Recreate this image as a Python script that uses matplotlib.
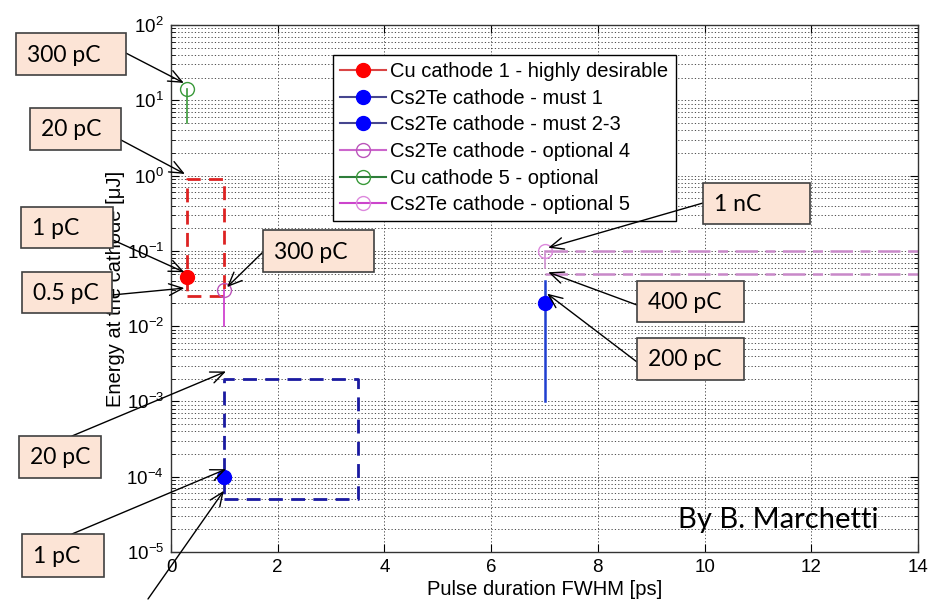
import numpy as np
import matplotlib
matplotlib.use("Agg")
import matplotlib.pyplot as plt
from matplotlib.patches import Rectangle, ConnectionPatch
from matplotlib.ticker import LogLocator, NullFormatter

# =========================================================
# DATOS
# =========================================================
cu1_x, cu1_y = [0.3], [0.045]          # Cu cathode 1 - highly desirable
must1_x, must1_y = [1.0], [1e-4]       # Cs2Te cathode - must 1
must23_x, must23_y = [7.0], [0.02]     # Cs2Te cathode - must 2-3
opt4_x, opt4_y = [1.0], [0.03]         # Cs2Te cathode - optional 4
cu5_x, cu5_y = [0.3], [14.0]           # Cu cathode 5 - optional
opt5_x, opt5_y = [7.0], [0.1]          # Cs2Te cathode - optional 5

# rangos verticales
opt4_range = [0.01, 0.03]
cu5_range = [5.0, 14.0]
must23_range = [1e-3, 0.04]
opt5_range = [0.06, 0.1]

# zonas rectangulares
red_box_x, red_box_y = [0.3, 1.0], [0.025, 0.9]
blue_box_x, blue_box_y = [1.0, 3.5], [5e-5, 2e-3]

# límites horizontales opcional 5
opt5_levels = [0.1, 0.05]
opt5_span = [7.0, 14.0]

labels = ["Cu cathode 1 - highly desirable",
          "Cs2Te cathode - must 1",
          "Cs2Te cathode - must 2-3",
          "Cs2Te cathode - optional 4",
          "Cu cathode 5 - optional",
          "Cs2Te cathode - optional 5"]

# anotaciones: texto y punto señalado
ann_text = ["300 pC", "20 pC", "1 pC", "0.5 pC", "300 pC",
            "1 nC", "400 pC", "200 pC", "20 pC", "1 pC", ""]
ann_tip_x = [0.24, 0.26, 0.25, 0.25, 1.05, 7.07, 7.07, 7.05, 1.03, 1.03, 0.99]
ann_tip_y = [17, 1.05, 0.052, 0.032, 0.033, 0.11, 0.052, 0.027, 0.0025, 1.26e-4, 6.5e-5]

# =========================================================
# FIGURA
# =========================================================
W, H = 930, 602
plt.rcParams['font.family'] = ['Liberation Sans', 'DejaVu Sans']

fig = plt.figure(figsize=(W / 100, H / 100), dpi=100)
ax = fig.add_axes([171 / W, 1 - 552 / H, 747 / W, 527 / H])


def px(x, y):
    return x / W, 1 - y / H


def box_rect(x, y, w, h):
    x0, y1 = px(x, y + h)
    return x0, y1, w / W, h / H


red = '#ff0000'
blue = '#0000ff'
green = '#3a9a3a'

# rectángulos
ax.plot([red_box_x[0], red_box_x[1], red_box_x[1], red_box_x[0], red_box_x[0]],
        [red_box_y[0], red_box_y[0], red_box_y[1], red_box_y[1], red_box_y[0]],
        color='#dd2222', lw=2, dashes=(5, 3))
ax.plot([blue_box_x[0], blue_box_x[1], blue_box_x[1], blue_box_x[0], blue_box_x[0]],
        [blue_box_y[0], blue_box_y[0], blue_box_y[1], blue_box_y[1], blue_box_y[0]],
        color='#1a1aa0', lw=2, dashes=(5, 3))

# líneas verticales
ax.plot(opt4_x * 2, opt4_range, color='#cc33cc', lw=1.2)
ax.plot(cu5_x * 2, cu5_range, color=green, lw=1.2)
ax.plot(must23_x * 2, must23_range, color='#1f3fd0', lw=1.8)
ax.plot(opt5_x * 2, opt5_range, color='#d090d0', lw=1.2)

# límites horizontales
ax.hlines(opt5_levels, opt5_span[0], opt5_span[1], colors='#c888c8', lw=1.8,
          linestyles=(0, (9, 3, 4, 3)))

# puntos
ax.plot(cu1_x, cu1_y, '-o', color='#d94545', mfc=red, mec=red, ms=10, label=labels[0])
ax.plot(must1_x, must1_y, '-o', color='#46468f', mfc=blue, mec=blue, ms=10, label=labels[1])
ax.plot(must23_x, must23_y, '-o', color='#46468f', mfc=blue, mec=blue, ms=10, label=labels[2])
ax.plot(opt4_x, opt4_y, '-o', color='#cc66cc', mfc='none', mec='#bb55bb', ms=10, label=labels[3])
ax.plot(cu5_x, cu5_y, '-o', color='#2e7d3a', mfc='none', mec=green, ms=10, label=labels[4])
ax.plot(opt5_x, opt5_y, '-o', color='#cc44cc', mfc='none', mec='#dd88dd', ms=10, label=labels[5])

ax.set_yscale('log')
ax.set_xlim(0, 14)
ax.set_ylim(1e-5, 1e2)
ax.set_xticks(np.arange(0, 15, 2))
ax.yaxis.set_major_locator(LogLocator(base=10, numticks=20))
ax.yaxis.set_minor_locator(LogLocator(base=10, subs=np.arange(2, 10), numticks=100))
ax.yaxis.set_minor_formatter(NullFormatter())

ax.grid(True, which='major', axis='both', color='#333333', lw=0.6, dashes=(1.5, 2.5))
ax.grid(True, which='minor', axis='y', color='#333333', lw=0.6, dashes=(1.5, 2.5))
ax.tick_params(which='both', direction='in', top=True, right=True, labelsize=13.5, pad=5)
ax.tick_params(which='major', length=6)
ax.tick_params(which='minor', length=3)
for s in ax.spines.values():
    s.set_linewidth(1.0)
    s.set_color('#333333')

ax.set_xlabel("Pulse duration FWHM [ps]", fontsize=14.5, labelpad=3)
ax.set_ylabel("Energy at the cathode [μJ]", fontsize=14.5, labelpad=1)

leg = ax.legend(loc='upper left', bbox_to_anchor=(0.2169, 0.9431), fontsize=14.5,
                fancybox=False, framealpha=1, edgecolor='black', borderpad=0.35,
                labelspacing=0.38, handlelength=2.3, handletextpad=0.2,
                borderaxespad=0)
leg.get_frame().set_linewidth(1.0)

# =========================================================
# CAJAS Y FLECHAS
# =========================================================
boxes = [(16, 33, 110, 42), (30, 108, 91, 42), (21, 207, 92, 41), (22, 272, 90, 41),
         (263, 230, 111, 42), (703, 183, 107, 41), (637, 281, 107, 41),
         (637, 338, 107, 42), (19, 436, 82, 42), (22, 534, 82, 43), None]
starts = [(120, 50), (121, 140), (113, 240), (112, 295), (263, 252), (703, 203),
          (637, 305), (637, 362), (72, 436), (72, 534), (148, 599)]

for txt, tx, ty, b, st in zip(ann_text, ann_tip_x, ann_tip_y, boxes, starts):
    con = ConnectionPatch(xyA=px(*st), coordsA='figure fraction',
                          xyB=(tx, ty), coordsB=ax.transData,
                          arrowstyle='->,head_length=0.7,head_width=0.3',
                          color='black', lw=1.0, shrinkA=0, shrinkB=0,
                          mutation_scale=14, zorder=2)
    con.set_annotation_clip(False)
    fig.add_artist(con)
    if b is None:
        continue
    x0, y0, w, h = box_rect(*b)
    fig.add_artist(Rectangle((x0, y0), w, h, transform=fig.transFigure,
                             facecolor='#fce4d6', edgecolor='#404040', lw=1.2, zorder=3))
    fig.text(*px(b[0] + 11, b[1] + b[3] / 2 + 1), txt, ha='left', va='center',
             fontsize=16.5, family='Lato', zorder=4)

fig.text(*px(678, 528), "By B. Marchetti", ha='left', va='baseline',
         fontsize=21, family='Lato', zorder=4)

fig.savefig("out.png", dpi=100)
